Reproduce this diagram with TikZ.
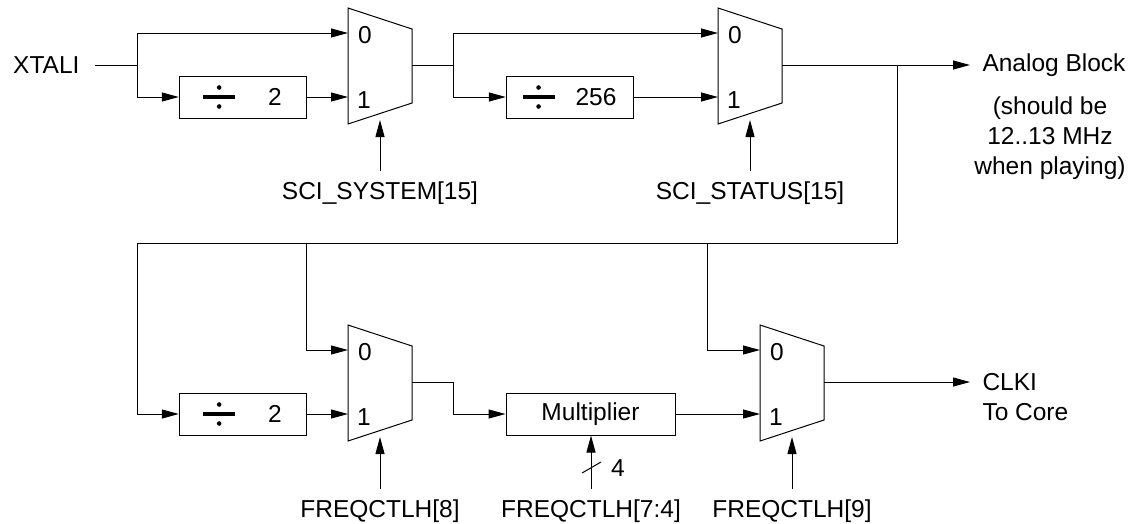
\documentclass[tikz,border=0pt]{standalone}
\usepackage{fontspec}
\setmainfont{Liberation Sans}
\usetikzlibrary{arrows.meta}
\newcommand{\divsign}{\tikz[baseline={(0pt,-8.6pt)}]{\fill (-16pt,-2.4pt) rectangle (16pt,2.4pt); \fill (0pt,9.5pt) circle [radius=2.3pt]; \fill (0pt,-9.5pt) circle [radius=2.3pt];}}
\tikzset{
  sig/.style={-{Triangle[length=17pt,width=9pt]}},
  blockbox/.style={draw, minimum height=42pt, inner sep=0pt},
  ctrl/.style={anchor=base, inner ysep=10pt},
  mux/.pic={
    \draw (0,-58) -- (64,-37) -- (64,37) -- (0,58) -- cycle;
    \coordinate (-in0) at (0,-33);
    \coordinate (-in1) at (0,31);
    \coordinate (-out) at (64,-1);
    \coordinate (-sel) at (32,54);
    \node (-l0) at (17,-31) {0};
    \node (-l1) at (16,34) {1};
  }
}
\begin{document}
\begin{tikzpicture}[x=1pt, y=-1pt, line width=1pt, font=\fontsize{24.5}{30}\selectfont]
    \useasboundingbox (0,0) rectangle (1142,523);
    \node [anchor=east, inner xsep=15pt, inner ysep=0pt] (xtali) at (95,65) {XTALI};
    \pic (mux1) at (348,66) {mux};
    \pic (mux2) at (718,66) {mux};
    \pic (mux3) at (348,383) {mux};
    \pic (mux4) at (760,383) {mux};
    \node [blockbox, minimum width=127pt] (div1) at (242.5,97) {\divsign\hspace{33pt}2};
    \node [blockbox, minimum width=127pt] (div2) at (569.5,97) {\divsign\hspace{21pt}256};
    \node [blockbox, minimum width=127pt] (div3) at (242.5,414) {\divsign\hspace{33pt}2};
    \node [blockbox, minimum width=169pt] (mult) at (590.5,414) {Multiplier};
    \coordinate (j1) at (137,65);
    \coordinate (j2) at (453,65);
    \coordinate (j3) at (897,65);
    \coordinate (fbl) at (137,243);
    \coordinate (j4) at (306,243);
    \coordinate (j5) at (707,243);
    \coordinate (j6) at (453,382);
    \node [anchor=west, inner xsep=12pt] (analog) at (970,65) {Analog Block};
    \node [align=center] (note) at (1050,138) {(should be\\12..13 MHz\\when playing)};
    \node [anchor=west, inner xsep=12pt] (clki) at (970,382) {CLKI};
    \node [anchor=base west, inner xsep=12pt] (core) at ([yshift=-30pt]clki.base west) {To Core};
    \node [ctrl] (ssys) at (380,199) {SCI\_SYSTEM[15]};
    \node [ctrl] (sstat) at (750,199) {SCI\_STATUS[15]};
    \node [ctrl] (fq8) at (380,517) {FREQCTLH[8]};
    \node [ctrl] (fq74) at (591,517) {FREQCTLH[7:4]};
    \node [ctrl] (fq9) at (792,517) {FREQCTLH[9]};
    \draw (xtali.east) -- (j1);
    \draw [sig] (j1) |- (mux1-in0);
    \draw [sig] (j1) |- (div1.west);
    \draw [sig] (div1.east) -- (mux1-in1);
    \draw (mux1-out) -- (j2);
    \draw [sig] (j2) |- (mux2-in0);
    \draw [sig] (j2) |- (div2.west);
    \draw [sig] (div2.east) -- (mux2-in1);
    \draw [sig] (mux2-out) -- (analog.west);
    \draw [sig] (j3) |- (fbl) |- (div3.west);
    \draw [sig] (j4) |- (mux3-in0);
    \draw [sig] (j5) |- (mux4-in0);
    \draw [sig] (div3.east) -- (mux3-in1);
    \draw (mux3-out) -- (j6);
    \draw [sig] (j6) |- (mult.west);
    \draw [sig] (mult.east) -- (mux4-in1);
    \draw [sig] (mux4-out) -- (clki.west);
    \draw [sig] (ssys.north) -- (mux1-sel);
    \draw [sig] (sstat.north) -- (mux2-sel);
    \draw [sig] (fq8.north) -- (mux3-sel);
    \draw [sig] (fq74.north) -- (fq74.north |- mult.south);
    \draw [sig] (fq9.north) -- (mux4-sel);
    \coordinate (bus) at (591,468);
    \draw ([shift={(-9,5)}]bus) -- ([shift={(10,-6)}]bus);
    \node (width) at (618,468) {4};
\end{tikzpicture}
\end{document}
